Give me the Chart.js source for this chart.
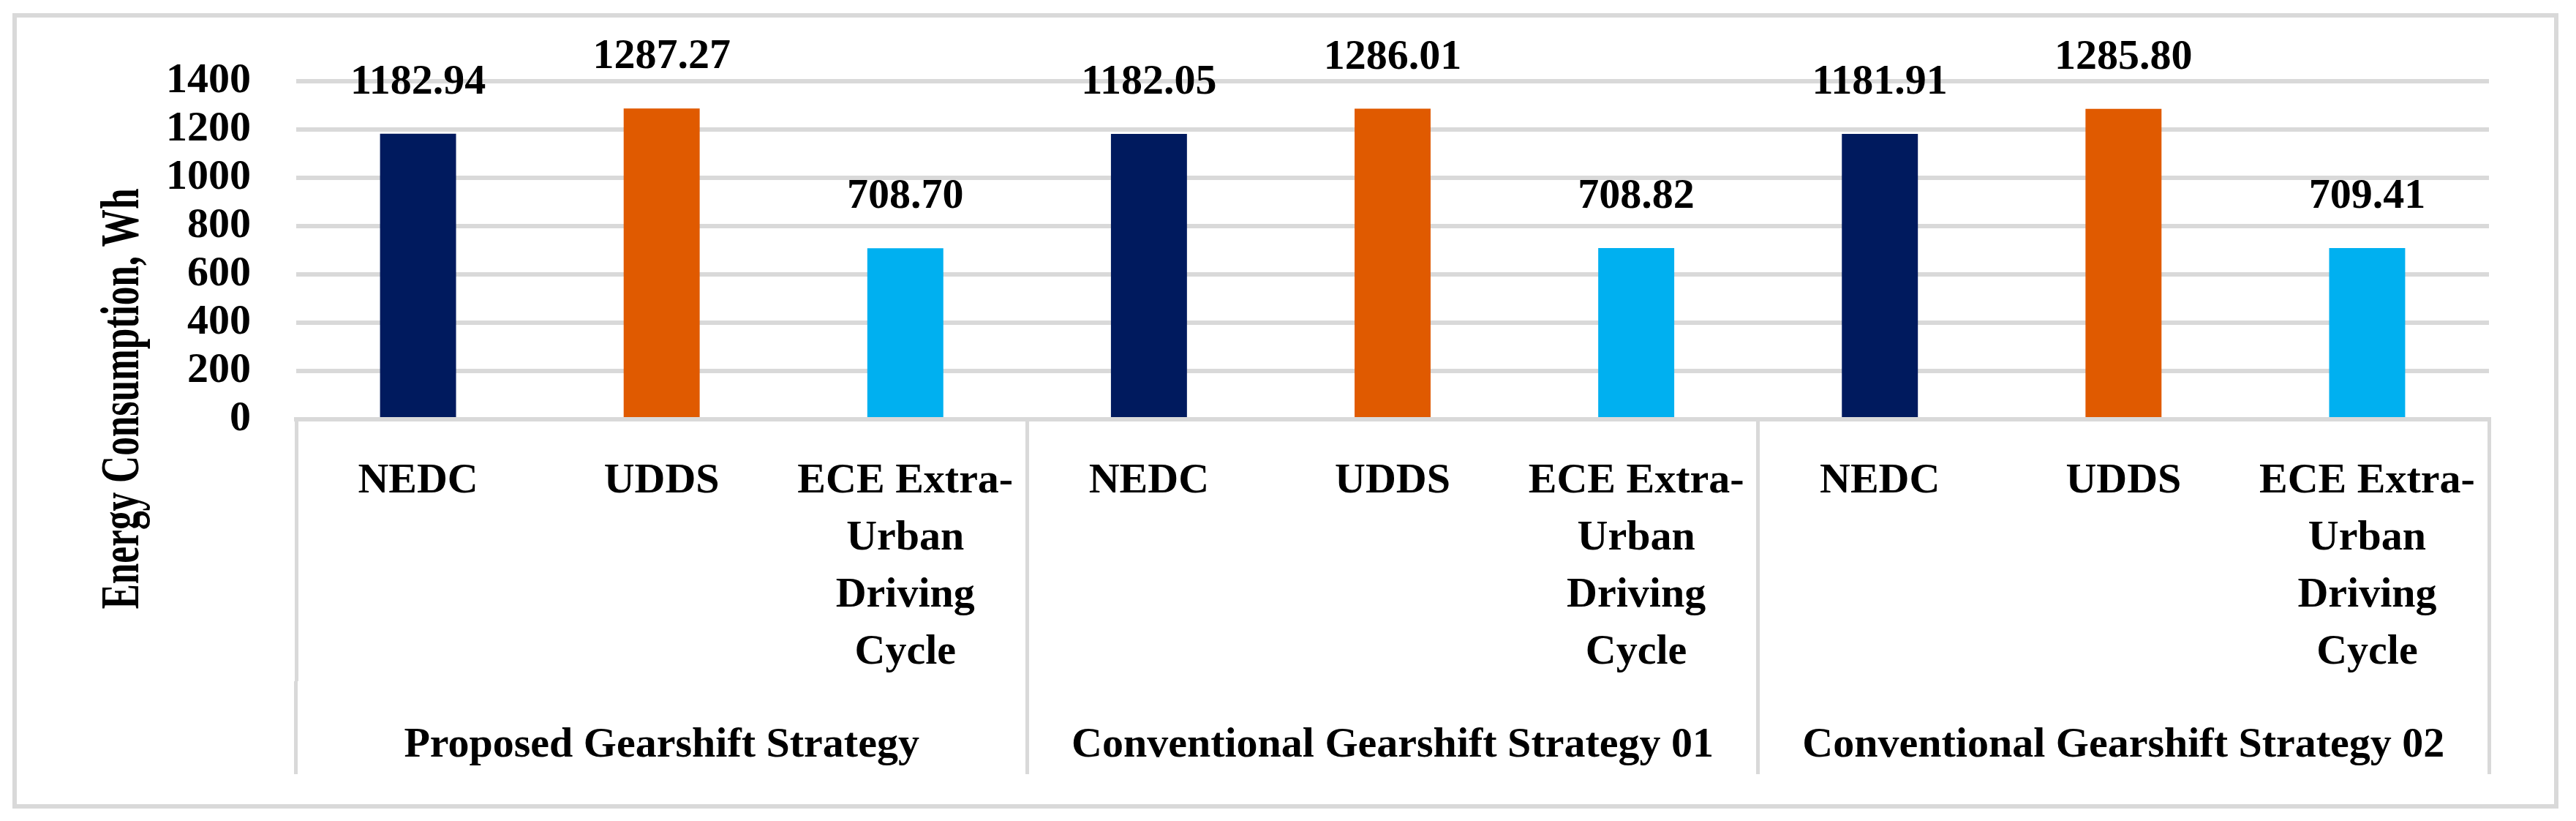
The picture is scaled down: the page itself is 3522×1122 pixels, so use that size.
<!DOCTYPE html>
<html lang="en">
<head>
  <meta charset="UTF-8">
  <title>Energy Consumption by Gearshift Strategy</title>
  <script src="https://cdn.jsdelivr.net/npm/chart.js"></script>
  <style>
    body { margin: 0; background: #fff; }
    #wrap { width: 3522px; height: 1122px; position: relative; }
  </style>
</head>
<body>
  <div id="wrap"><canvas id="myChart"></canvas></div>

  <script>
    // driving cycles (one bar each) and the strategy groups under them
    const cycles = ['NEDC', 'UDDS', ['ECE Extra-', 'Urban', 'Driving', 'Cycle']];
    const strategies = ['Proposed Gearshift Strategy', 'Conventional Gearshift Strategy 01', 'Conventional Gearshift Strategy 02'];

    // energy consumption, Wh
    const proposed = [1182.94, 1287.27, 708.70];
    const conventional01 = [1182.05, 1286.01, 708.82];
    const conventional02 = [1181.91, 1285.80, 709.41];

    const yTicks = ['0', '200', '400', '600', '800', '1000', '1200', '1400'];
    const cycleColors = ['#001A5E', '#E05A00', '#00B0F0'];

    const FONT = "'Liberation Serif', 'Times New Roman', serif";
    const GRID = '#d9d9d9';

    // flatten groups into the 9 bar categories
    const labels = [];
    const values = [];
    const colors = [];
    [proposed, conventional01, conventional02].forEach(group => {
      group.forEach((v, i) => {
        labels.push(cycles[i]);
        values.push(v);
        colors.push(cycleColors[i]);
      });
    });

    // value labels above bars, y title and the outer frame
    const extras = {
      id: 'extras',
      beforeDraw(chart) {
        const ctx = chart.ctx;
        ctx.save();
        ctx.strokeStyle = GRID;
        ctx.lineWidth = 6;
        ctx.strokeRect(20, 21, 3475, 1081);
        ctx.restore();
      },
      afterDatasetsDraw(chart) {
        const ctx = chart.ctx;
        ctx.save();
        ctx.font = `bold 58px ${FONT}`;
        ctx.fillStyle = '#000';
        ctx.textAlign = 'center';
        ctx.textBaseline = 'alphabetic';
        chart.getDatasetMeta(0).data.forEach((bar, i) => {
          ctx.fillText(values[i].toFixed(2), bar.x, bar.y - 55);
        });

        // axis title, centred on the whole plot block like the original,
        // wide letters squeezed to the original's length
        const title = 'Energy Consumption, Wh';
        ctx.font = `bold 74px ${FONT}`;
        const sx = 575 / ctx.measureText(title).width;
        ctx.translate(170, 545);
        ctx.rotate(-Math.PI / 2);
        ctx.scale(sx, 1);
        ctx.textBaseline = 'middle';
        ctx.fillText(title, 0, 0);
        ctx.restore();
      }
    };

    const ctx = document.getElementById('myChart').getContext('2d');
    new Chart(ctx, {
      type: 'bar',
      data: {
        labels: labels,
        datasets: [{
          data: values,
          backgroundColor: colors,
          categoryPercentage: 1,
          barPercentage: 0.312
        }]
      },
      options: {
        responsive: true,
        maintainAspectRatio: false,
        devicePixelRatio: 1,
        animation: false,
        layout: { padding: { left: 20, right: 119, top: 111, bottom: 64 } },
        plugins: {
          legend: { display: false },
          tooltip: { enabled: false }
        },
        scales: {
          y: {
            min: 0,
            max: 1400,
            afterFit: s => { s.width = 385; },
            grid: { color: GRID, lineWidth: 6, drawTicks: false },
            border: { display: false },
            ticks: {
              stepSize: 200,
              autoSkip: false,
              callback: (v, i) => yTicks[i],
              color: '#000',
              padding: 62,
              font: { family: FONT, size: 58, weight: 'bold', lineHeight: 1 }
            }
          },
          x: {
            weight: 0,
            afterFit: s => { s.height = 358; },
            grid: {
              offset: true,
              drawOnChartArea: false,
              tickLength: 358,
              lineWidth: 5,
              color: c => (c.index === undefined || c.index % 3 === 0) ? GRID : 'rgba(0,0,0,0)'
            },
            border: { display: true, color: GRID, width: 6 },
            ticks: {
              color: '#000',
              padding: -312,
              maxRotation: 0,
              autoSkip: false,
              font: { family: FONT, size: 58, weight: 'bold', lineHeight: 78 / 58 }
            }
          },
          x2: {
            type: 'category',
            position: 'bottom',
            weight: 1,
            labels: strategies,
            offset: true,
            afterFit: s => { s.height = 127; },
            grid: {
              offset: true,
              drawOnChartArea: false,
              tickLength: 127,
              lineWidth: 5,
              color: GRID
            },
            border: { display: false },
            ticks: {
              color: '#000',
              padding: -78,
              maxRotation: 0,
              autoSkip: false,
              font: { family: FONT, size: 58, weight: 'bold', lineHeight: 78 / 58 }
            }
          }
        }
      },
      plugins: [extras]
    });
  </script>
</body>
</html>
